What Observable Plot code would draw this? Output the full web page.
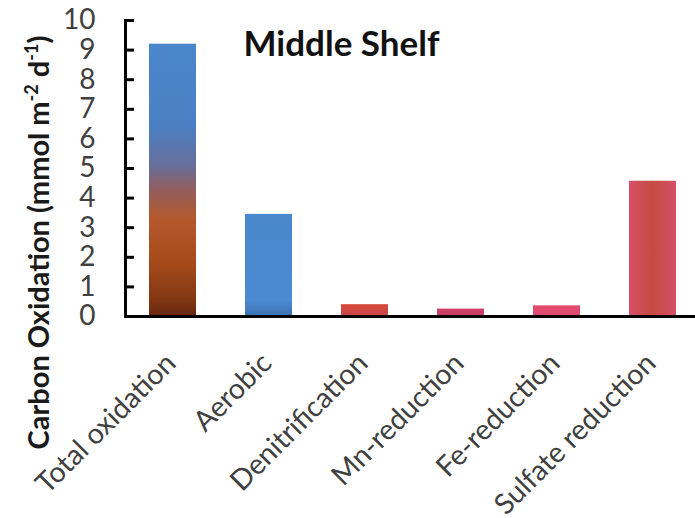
<!DOCTYPE html>
<html>
<head>
<meta charset="utf-8">
<script src="https://cdn.jsdelivr.net/npm/d3@7"></script>
<script src="https://cdn.jsdelivr.net/npm/@observablehq/plot@0.6"></script>
<style>
  html, body { margin: 0; padding: 0; background: #fff; }
  #chart { width: 695px; height: 518px; }
</style>
</head>
<body>
<div id="chart"></div>
<script>
// Depth-integrated carbon oxidation pathways, middle shelf station
const processes = ["Total oxidation", "Aerobic", "Denitrification", "Mn-reduction", "Fe-reduction", "Sulfate reduction"];
const rates = [9.2, 3.45, 0.4, 0.25, 0.36, 4.57];
const yTicks = [0, 1, 2, 3, 4, 5, 6, 7, 8, 9, 10];
const title = "Middle Shelf";
// axis title pieces: [text, superscript?]
const yTitleParts = [["Carbon Oxidation (mmol m", false], ["-2", true], [" d", false], ["-1", true], [")", false]];
const yTitle = yTitleParts.map(p => p[0]).join("");

// gradient fill for each bar (vertical unless dir is "h")
const gradients = [
  {id: "g-total", dir: "v", stops: [[0, "#4b87cb"], [0.3, "#4a80c3"], [0.44, "#66709e"], [0.54, "#935d5c"], [0.64, "#b3592c"], [0.8, "#a64b1b"], [0.93, "#853914"], [1, "#662610"]]},
  {id: "g-aerobic", dir: "v", stops: [[0, "#4a87cb"], [0.85, "#4a8bd1"], [0.9, "#4682c6"], [1, "#3b72b2"]]},
  {id: "g-denit", dir: "v", stops: [[0, "#d84a3c"], [1, "#c8484c"]]},
  {id: "g-mn", dir: "v", stops: [[0, "#cf3f62"], [1, "#c8406c"]]},
  {id: "g-fe", dir: "v", stops: [[0, "#e44c6e"], [1, "#dc4a72"]]},
  {id: "g-sulfate", dir: "h", stops: [[0, "#d8506a"], [0.25, "#cc4d52"], [0.5, "#c64c42"], [0.75, "#cc4d52"], [1, "#d8506a"]]}
];

const table = processes.map((p, i) => ({process: p, rate: rates[i], fill: `url(#${gradients[i].id})`}));

const plot = Plot.plot({
  width: 695,
  height: 518,
  marginLeft: 125,
  marginRight: 0,
  marginTop: 20,
  marginBottom: 202,
  style: {fontFamily: "Lato, 'Open Sans', sans-serif", background: "#fff", color: "#000"},
  x: {domain: processes, range: [100.5, 725.5], padding: 0.51, label: null},
  y: {domain: [0, 10], label: null},
  color: {type: "identity"},
  marks: [
    Plot.barY(table, {x: "process", y: "rate", fill: "fill"}),
    Plot.axisY(yTicks, {tickSize: -9, tickPadding: 39, strokeWidth: 3, fontSize: 28, fill: "#404040", stroke: "#000", label: null}),
    Plot.axisX({tickSize: 0, tickRotate: -45, tickPadding: 42, dx: -2, fontSize: 28.5, fill: "#404040", label: null}),
    Plot.ruleY([0], {stroke: "#000", strokeWidth: 3}),
    Plot.frame({anchor: "left", stroke: "#000", strokeWidth: 3}),
    Plot.text([yTitle], {text: d => d, frameAnchor: "left", rotate: -90, dx: -77, dy: 74, textAnchor: "middle", lineAnchor: "bottom", fontSize: 29, fontWeight: "bold", fill: "#1a1a1a"}),
    Plot.text([title], {text: d => d, frameAnchor: "top-left", dx: 118, dy: 11, lineAnchor: "top", textAnchor: "start", fontSize: 35, fontWeight: "bold", fill: "#111"})
  ]
});

// gradient definitions referenced by the bar fills
const svgNS = "http://www.w3.org/2000/svg";
const defs = document.createElementNS(svgNS, "defs");
for (const g of gradients) {
  const lg = document.createElementNS(svgNS, "linearGradient");
  lg.setAttribute("id", g.id);
  lg.setAttribute("x1", "0"); lg.setAttribute("y1", "0");
  lg.setAttribute("x2", g.dir === "h" ? "1" : "0");
  lg.setAttribute("y2", g.dir === "h" ? "0" : "1");
  for (const [o, c] of g.stops) {
    const s = document.createElementNS(svgNS, "stop");
    s.setAttribute("offset", o);
    s.setAttribute("stop-color", c);
    lg.appendChild(s);
  }
  defs.appendChild(lg);
}
plot.insertBefore(defs, plot.firstChild);

// superscript exponents in the y-axis title
for (const t of plot.querySelectorAll("text")) {
  if (t.textContent === yTitle) {
    t.textContent = "";
    for (const [str, sup] of yTitleParts) {
      const ts = document.createElementNS(svgNS, "tspan");
      ts.textContent = str;
      if (sup) { ts.setAttribute("font-size", "18"); ts.setAttribute("baseline-shift", "super"); }
      t.appendChild(ts);
    }
  }
}

document.getElementById("chart").appendChild(plot);
</script>
</body>
</html>
